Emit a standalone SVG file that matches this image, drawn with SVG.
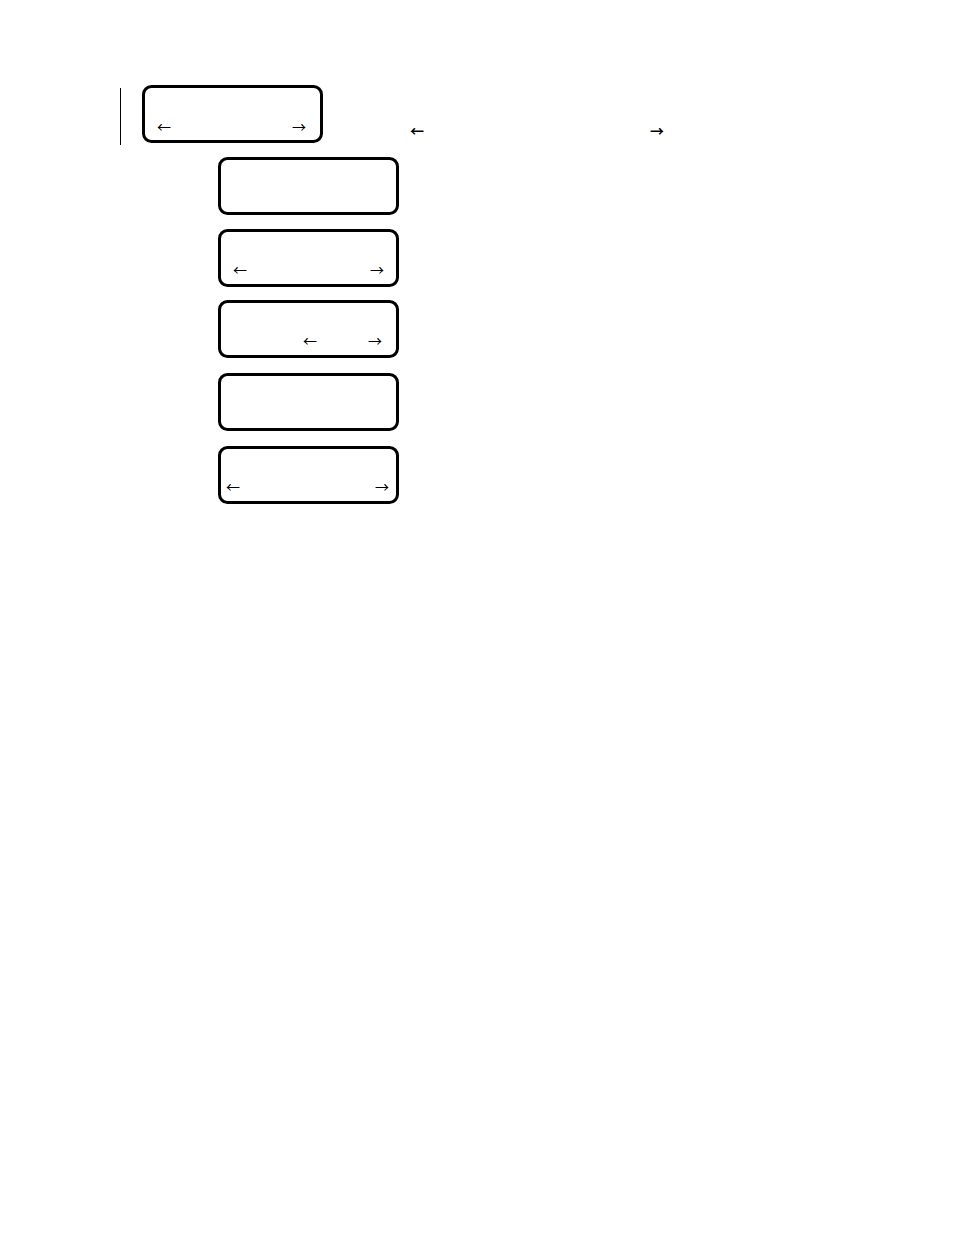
<svg xmlns="http://www.w3.org/2000/svg" width="954" height="1235" viewBox="0 0 954 1235">
<style>
.box{fill:#fff;stroke:#000;stroke-width:3}
.ar{font-family:"Noto Sans CJK JP",sans-serif;font-size:14px;fill:#000;text-anchor:middle}
.arb{font-family:"Noto Sans CJK JP",sans-serif;font-size:14px;font-weight:bold;fill:#000;text-anchor:middle}
</style>
<rect width="954" height="1235" fill="#fff"/>
<g id="connectors">
<line x1="120.5" y1="88" x2="120.5" y2="145" stroke="#000" stroke-width="1"/>
</g>
<g id="node1">
<rect class="box" x="143.5" y="86.5" width="178" height="55" rx="8"/>
<text class="ar" x="164" y="132">←</text>
<text class="ar" x="299" y="132">→</text>
</g>
<g id="labels">
<text class="arb" x="417" y="136">←</text>
<text class="arb" x="657" y="136">→</text>
</g>
<g id="node2">
<rect class="box" x="219.5" y="158.5" width="178" height="55" rx="8"/>
</g>
<g id="node3">
<rect class="box" x="219.5" y="230.5" width="178" height="55" rx="8"/>
<text class="ar" x="240" y="275">←</text>
<text class="ar" x="377" y="275">→</text>
</g>
<g id="node4">
<rect class="box" x="219.5" y="301.5" width="178" height="55" rx="8"/>
<text class="ar" x="310" y="346">←</text>
<text class="ar" x="375" y="346">→</text>
</g>
<g id="node5">
<rect class="box" x="219.5" y="374.5" width="178" height="55" rx="8"/>
</g>
<g id="node6">
<rect class="box" x="219.5" y="447.5" width="178" height="55" rx="8"/>
<text class="ar" x="233" y="492">←</text>
<text class="ar" x="382" y="492">→</text>
</g>
</svg>
